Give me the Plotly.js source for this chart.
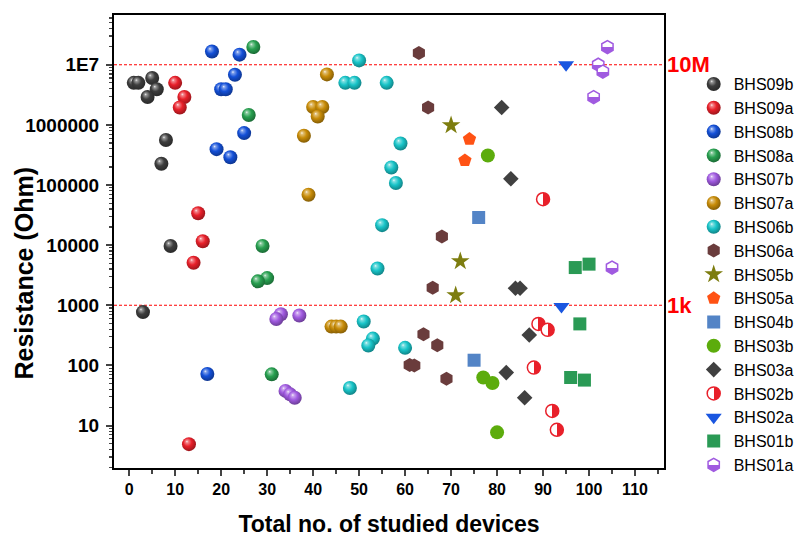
<!DOCTYPE html>
<html>
<head>
<meta charset="utf-8">
<script src="https://cdn.plot.ly/plotly-3.0.1.min.js"></script>
<style>html,body{margin:0;padding:0;background:#fff;}#chart{width:811px;height:537px;}</style>
</head>
<body>
<div id="chart"></div>
<script>
// ---- data ----
var names = ["BHS09b","BHS09a","BHS08b","BHS08a","BHS07b","BHS07a","BHS06b","BHS06a","BHS05b","BHS05a","BHS04b","BHS03b","BHS03a","BHS02b","BHS02a","BHS01b","BHS01a"];

var bhs09b_x = [1,2,5,6,4,8,7,9,3];
var bhs09b_y = [5.0e6,5.0e6,6.0e6,3.9e6,2.9e6,5.6e5,2.25e5,9.7e3,770];
var bhs09a_x = [10,12,11,15,16,14,13];
var bhs09a_y = [5.0e6,2.9e6,1.95e6,3.4e4,1.16e4,5.1e3,4.9];
var bhs08b_x = [18,24,23,20,21,25,19,22,17];
var bhs08b_y = [1.66e7,1.47e7,6.8e6,3.9e6,3.9e6,7.3e5,3.95e5,2.9e5,72];
var bhs08a_x = [27,26,29,30,28,31];
var bhs08a_y = [1.97e7,1.46e6,9.7e3,2.83e3,2.5e3,71];
var bhs07b_x = [33,32,37,34,35,36];
var bhs07b_y = [710,590,675,37.7,33,29];
var bhs07a_x = [43,40,42,41,38,39,44,45,46];
var bhs07a_y = [6.9e6,1.98e6,1.98e6,1.38e6,6.6e5,6.9e4,442,442,442];
var bhs06b_x = [50,47,49,56,59,57,58,55,54,51,53,52,60,48];
var bhs06b_y = [1.18e7,5.0e6,5.0e6,5.0e6,4.9e5,1.96e5,1.08e5,2.15e4,4.08e3,536,279,214,196,42];
var bhs06a_x = [63,65,68,66,64,67,61,62,69];
var bhs06a_y = [1.56e7,1.95e6,1.39e4,1.95e3,330,217,102,100,60];
var bhs05b_x = [70,72,71];
var bhs05b_y = [9.8e5,5.4e3,1.46e3];
var bhs05a_x = [74,73];
var bhs05a_y = [5.8e5,2.56e5];
var bhs04b_x = [76,75];
var bhs04b_y = [2.88e4,122];
var bhs03b_x = [78,77,79,80];
var bhs03b_y = [3.1e5,63,51,7.7];
var bhs03a_x = [81,83,84,85,87,82,86];
var bhs03a_y = [1.95e6,1.27e5,1.92e3,1.92e3,321,76,29];
var bhs02b_x = [90,89,91,88,92,93];
var bhs02b_y = [5.8e4,490,390,92,17.5,8.5];
var bhs02a_x = [95,94];
var bhs02a_y = [1.0e7,950];
var bhs01b_x = [97,100,98,96,99];
var bhs01b_y = [4.24e3,4.83e3,490,63,57];
var bhs01a_x = [104,102,103,101,105];
var bhs01a_y = [1.97e7,1.0e7,7.7e6,2.9e6,4.24e3];

var xTickVals = [0,10,20,30,40,50,60,70,80,90,100,110];
var yTickVals = [10,100,1000,10000,100000,1000000,10000000];
var yTickText = ["10","100","1000","10000","100000","1000000","1E7"];
var refLines = [1e7, 1e3];
var refLabels = ["10M","1k"];

// ---- traces ----
var FONT = "Liberation Sans, Arial, sans-serif";
function sphere(name, x, y, color){
  return {type:"scatter", mode:"markers", name:name, x:x, y:y,
    marker:{symbol:"circle", size:14, color:color, line:{width:0},
            gradient:{type:"radial", color:"#ffffff"}}};
}
function plain(name, x, y, color, symbol, size, extra){
  var m = {symbol:symbol, size:size, color:color, line:{width:0}};
  if(extra){ for(var k in extra) m[k]=extra[k]; }
  return {type:"scatter", mode:"markers", name:name, x:x, y:y, marker:m};
}

var data = [
  sphere(names[0], bhs09b_x, bhs09b_y, "#3d3d3d"),
  sphere(names[1], bhs09a_x, bhs09a_y, "#e8202a"),
  sphere(names[2], bhs08b_x, bhs08b_y, "#1450d8"),
  sphere(names[3], bhs08a_x, bhs08a_y, "#28a050"),
  sphere(names[4], bhs07b_x, bhs07b_y, "#a05ae0"),
  sphere(names[5], bhs07a_x, bhs07a_y, "#c88c08"),
  sphere(names[6], bhs06b_x, bhs06b_y, "#18c4c8"),
  plain(names[7], bhs06a_x, bhs06a_y, "#6a3c3c", "hexagon", 14),
  plain(names[8], bhs05b_x, bhs05b_y, "#7d7d0f", "star", 14),
  plain(names[9], bhs05a_x, bhs05a_y, "#ff5214", "pentagon", 14),
  plain(names[10], bhs04b_x, bhs04b_y, "#5384c6", "square", 13),
  plain(names[11], bhs03b_x, bhs03b_y, "#5cac0c", "circle", 14),
  plain(names[12], bhs03a_x, bhs03a_y, "#404040", "diamond", 12),
  plain(names[13], bhs02b_x, bhs02b_y, "#ffffff", "circle", 13,
        {line:{width:1.5, color:"#e8202a"}, gradient:{type:"horizontal", color:"#e8202a"}}),
  plain(names[14], bhs02a_x, bhs02a_y, "#1a56e0", "triangle-down", 14),
  plain(names[15], bhs01b_x, bhs01b_y, "#2a9a55", "square", 13),
  plain(names[16], bhs01a_x, bhs01a_y, "#ffffff", "hexagon", 13,
        {line:{width:1.5, color:"#a05ae0"}, gradient:{type:"vertical", color:"#a05ae0"}})
];

var minorY = [];
for (var d = 0; d <= 7; d++) { for (var k = 2; k <= 9; k++) { minorY.push(k * Math.pow(10, d)); } }

var shapes = refLines.map(function(v){
  return {type:"line", xref:"paper", x0:0, x1:1, yref:"y", y0:v, y1:v,
          line:{color:"#ff0000", width:1.2, dash:"3px,2px"}, layer:"below"};
});
var annotations = refLines.map(function(v,i){
  return {xref:"paper", x:1, xanchor:"left", xshift:1, yref:"y", y:Math.log10(v), yanchor:"middle",
          text:refLabels[i], showarrow:false, font:{family:FONT, size:22, color:"#ff0000", weight:"bold"}};
});
annotations.push({xref:"paper", yref:"paper", x:-0.163, y:0.43, xanchor:"center", yanchor:"middle",
  textangle:-90, showarrow:false, text:"Resistance (Ohm)",
  font:{family:FONT, size:25, color:"#000", weight:"bold"}});

var layout = {
  width:811, height:537,
  margin:{l:114, r:143, t:15, b:69},
  paper_bgcolor:"#ffffff", plot_bgcolor:"#ffffff",
  showlegend:true,
  legend:{x:1.054, xanchor:"left", y:0.885, yanchor:"top", bgcolor:"rgba(0,0,0,0)",
          font:{family:FONT, size:16, color:"#000"}, itemwidth:30},
  xaxis:{range:[-3.3,116.3], tickmode:"array", tickvals:xTickVals, ticks:"outside", ticklen:6, tickwidth:2,
         showline:true, linewidth:2, linecolor:"#000", mirror:true, showgrid:false, zeroline:false,
         tickfont:{family:FONT, size:16, color:"#000", weight:"bold"},
         minor:{dtick:5, tick0:0, ticks:"outside", ticklen:3.5, tickwidth:1.5, showgrid:false},
         title:{text:"Total no. of studied devices", standoff:19, font:{family:FONT, size:23, color:"#000", weight:"bold"}}},
  yaxis:{type:"log", range:[0.294,7.827], tickmode:"array", tickvals:yTickVals, ticktext:yTickText,
         ticks:"outside", ticklen:6, tickwidth:2, ticklabelstandoff:3,
         showline:true, linewidth:2, linecolor:"#000", mirror:true, showgrid:false, zeroline:false,
         tickfont:{family:FONT, size:19, color:"#000", weight:"bold"},
         minor:{tickmode:"array", tickvals:minorY, ticks:"outside", ticklen:3.5, tickwidth:1.2, showgrid:false}},
  shapes:shapes,
  annotations:annotations
};

function parseColor(s){
  var m = (s||"").match(/[\d.]+/g);
  if(m && m.length>=3) return [Number(m[0]),Number(m[1]),Number(m[2])];
  if(s && s[0]==="#" && s.length===7) return [parseInt(s.substr(1,2),16),parseInt(s.substr(3,2),16),parseInt(s.substr(5,2),16)];
  return [0,0,0];
}
function mix(c, t, f){ return "rgb(" + c.map(function(v,i){return Math.round(v+(t[i]-v)*f);}).join(",") + ")"; }
function stopColor(s){ return s.getAttribute("stop-color") || s.style.stopColor || ""; }
function mkStop(off, col){
  var s = document.createElementNS("http://www.w3.org/2000/svg","stop");
  s.setAttribute("offset", off); s.setAttribute("stop-color", col); return s;
}

Plotly.newPlot("chart", data, layout, {staticPlot:true}).then(function(gd){
  gd.querySelectorAll("radialGradient").forEach(function(g){
    var stops = Array.prototype.slice.call(g.querySelectorAll("stop"));
    var base = null;
    stops.forEach(function(s){ var c = parseColor(stopColor(s)); if(!(c[0]>250&&c[1]>250&&c[2]>250)) base = c; });
    if(!base) return;
    stops.forEach(function(s){ g.removeChild(s); });
    g.appendChild(mkStop("0%", mix(base,[255,255,255],0.92)));
    g.appendChild(mkStop("15%", mix(base,[255,255,255],0.45)));
    g.appendChild(mkStop("50%", mix(base,[0,0,0],0.0)));
    g.appendChild(mkStop("100%", mix(base,[0,0,0],0.35)));
    g.setAttribute("cx","45%"); g.setAttribute("cy","42%"); g.setAttribute("r","60%");
    g.setAttribute("fx","35%"); g.setAttribute("fy","30%");
  });
  gd.querySelectorAll("linearGradient").forEach(function(g){
    var stops = Array.prototype.slice.call(g.querySelectorAll("stop"));
    if(stops.length<2) return;
    stops.sort(function(a,b){return parseFloat(a.getAttribute("offset"))-parseFloat(b.getAttribute("offset"));});
    var c0 = stopColor(stops[0]), c1 = stopColor(stops[stops.length-1]);
    stops.forEach(function(s){ g.removeChild(s); });
    g.appendChild(mkStop("0%", c0)); g.appendChild(mkStop("50%", c0));
    g.appendChild(mkStop("50%", c1)); g.appendChild(mkStop("100%", c1));
  });
});
</script>
</body>
</html>
